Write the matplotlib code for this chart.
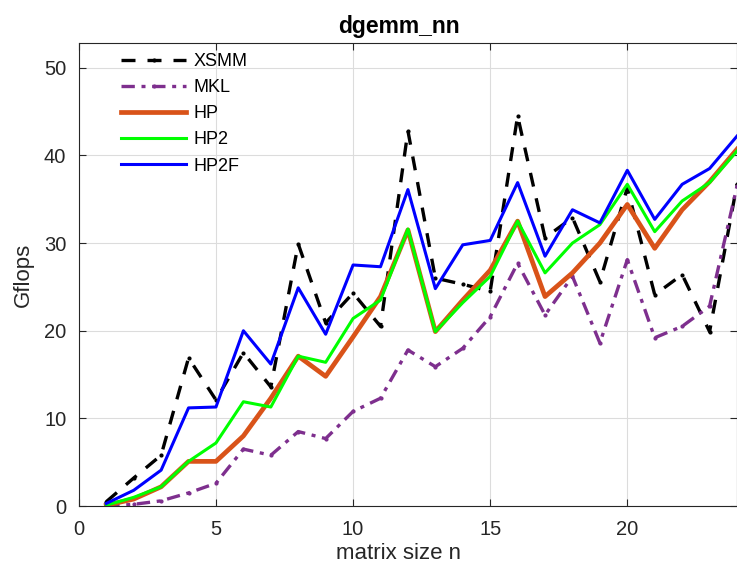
import numpy as np
import matplotlib
matplotlib.use('Agg')
import matplotlib.pyplot as plt
from matplotlib.ticker import MultipleLocator

plt.rcParams['font.family'] = ['Liberation Sans', 'DejaVu Sans']

n = np.arange(1, 25)

xsmm = [0.5, 3.2, 5.8, 16.9, 12.1, 17.5, 13.6, 29.9, 20.9, 24.3, 20.5, 42.8,
        26.0, 25.3, 24.5, 44.5, 30.6, 32.9, 25.6, 36.3, 24.1, 26.4, 19.9, 36.7]
mkl = [0.0, 0.2, 0.6, 1.5, 2.6, 6.5, 5.8, 8.5, 7.7, 10.8, 12.3, 17.8,
       15.9, 18.0, 21.6, 27.7, 21.8, 26.2, 18.6, 28.1, 19.2, 20.5, 22.8, 36.5]
hp = [0.1, 0.8, 2.2, 5.1, 5.1, 8.0, 12.3, 17.1, 14.8, 19.3, 23.9, 31.5,
      19.9, 23.5, 26.9, 32.5, 23.9, 26.6, 30.0, 34.4, 29.4, 33.8, 37.0, 40.7]
hp2 = [0.1, 1.0, 2.2, 5.1, 7.2, 11.9, 11.3, 17.1, 16.4, 21.4, 23.5, 31.6,
       19.9, 23.2, 26.2, 32.5, 26.6, 30.0, 32.1, 36.7, 31.3, 34.8, 36.9, 40.5]
hp2f = [0.3, 1.8, 4.1, 11.2, 11.3, 20.0, 16.2, 24.9, 19.6, 27.5, 27.3, 36.1,
        24.8, 29.8, 30.3, 36.9, 28.5, 33.8, 32.3, 38.3, 32.7, 36.7, 38.5, 42.2]

fig = plt.figure(figsize=(7.37, 5.68), dpi=100)
ax = fig.add_axes([0.107, 0.109, 0.893, 0.815])

ax.plot(n, xsmm, color='k', lw=2.4, ls=(0, (4.2, 3.6)), marker='.', ms=4,
        label='XSMM')
ax.plot(n, mkl, color='#7E2F8E', lw=2.4, ls=(0, (4, 2, 1.2, 2)), marker='.', ms=4,
        label='MKL')
ax.plot(n, hp, color='#D95319', lw=3.4, label='HP')
ax.plot(n, hp2, color='#00FF00', lw=2.2, label='HP2')
ax.plot(n, hp2f, color='#0000FF', lw=2.2, label='HP2F')

ax.set_xlim(0, 24)
ax.set_ylim(0, 52.8)
ax.xaxis.set_major_locator(MultipleLocator(5))
ax.yaxis.set_major_locator(MultipleLocator(10))
ax.grid(True, color='#dcdcdc', lw=0.8)
ax.set_axisbelow(True)
ax.tick_params(direction='in', length=5, labelsize=14.5, color='#262626',
               labelcolor='#262626', top=True, right=True)
ax.tick_params(axis='x', pad=10)
ax.tick_params(axis='y', pad=9)
for s in ax.spines.values():
    s.set_color('#262626')
    s.set_linewidth(0.8)

ax.set_xlabel('matrix size n', fontsize=16, color='#262626', labelpad=3, x=0.486)
ax.set_ylabel('Gflops', fontsize=16, color='#262626', labelpad=7)
ax.set_title('dgemm_nn', fontsize=16.5, fontweight='bold', pad=7, x=0.486)

ax.legend(loc='upper left', bbox_to_anchor=(0.04, 1.013), frameon=False,
          fontsize=13, handlelength=3.6, labelspacing=0.5, handletextpad=0.4)

fig.savefig('out.png', dpi=100)
